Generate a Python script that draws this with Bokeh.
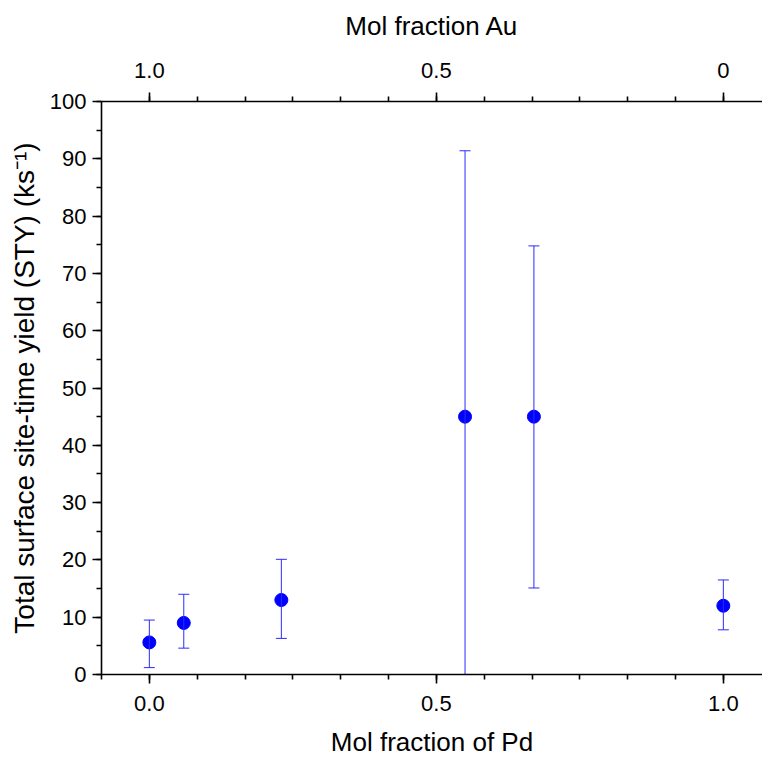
from bokeh.plotting import figure
from bokeh.models import (LinearAxis, FixedTicker, Range1d, Whisker, TeeHead,
                          ColumnDataSource)
from bokeh.embed import file_html
from bokeh.resources import INLINE

# ---- data ----
pd_fraction = [0.0, 0.06, 0.23, 0.55, 0.67, 1.0]
sty = [5.6, 9.0, 13.0, 45.0, 45.0, 12.0]
err_upper = [9.5, 14.0, 20.1, 91.4, 74.8, 16.5]
err_lower = [1.2, 4.6, 6.3, -1.4, 15.1, 7.8]

bottom_ticks = [0.0, 0.5, 1.0]
bottom_labels = ["0.0", "0.5", "1.0"]
top_labels = ["1.0", "0.5", "0"]
minor_ticks = [k / 12 for k in range(-1, 14)]
y_major = list(range(0, 101, 10))
y_minor = list(range(0, 101, 5))

FONT = "Liberation Sans"

src = ColumnDataSource(dict(x=pd_fraction, y=sty, upper=err_upper, lower=err_lower))

p = figure(width=762, height=761, output_backend="svg", toolbar_location=None,
           x_range=Range1d(-1 / 12, -1 / 12 + 661 / 574), y_range=Range1d(0, 100),
           min_border_left=101, min_border_right=0, min_border_top=101,
           min_border_bottom=87, x_axis_location=None, y_axis_location=None)
p.outline_line_color = None
p.grid.visible = False
p.background_fill_color = "white"
p.border_fill_color = "white"


def style_axis(ax, label_size, title_size):
    ax.axis_line_width = 1.6
    ax.major_tick_line_width = 1.6
    ax.minor_tick_line_width = 1.6
    ax.major_tick_out = 9
    ax.major_tick_in = 0
    ax.minor_tick_out = 5
    ax.minor_tick_in = 0
    ax.major_label_text_font = FONT
    ax.major_label_text_font_size = label_size
    ax.major_label_text_color = "black"
    ax.axis_label_text_font = FONT
    ax.axis_label_text_font_size = title_size
    ax.axis_label_text_font_style = "normal"
    ax.axis_label_text_color = "black"


xb = LinearAxis(ticker=FixedTicker(ticks=bottom_ticks, minor_ticks=minor_ticks),
                axis_label="Mol fraction of Pd")
xb.major_label_overrides = {t: l for t, l in zip(bottom_ticks, bottom_labels)}
style_axis(xb, "22px", "26px")
xb.major_label_standoff = 12
xb.axis_label_standoff = 13
p.add_layout(xb, "below")

xt = LinearAxis(ticker=FixedTicker(ticks=bottom_ticks, minor_ticks=minor_ticks[1:-1]),
                axis_label="Mol fraction Au")
xt.major_label_overrides = {t: l for t, l in zip(bottom_ticks, top_labels)}
style_axis(xt, "22px", "26px")
xt.major_label_standoff = 15
xt.axis_label_standoff = 19
p.add_layout(xt, "above")

yl = LinearAxis(ticker=FixedTicker(ticks=y_major, minor_ticks=y_minor),
                axis_label="Total surface site-time yield (STY) (ks\u207b\u00b9)")
style_axis(yl, "22px", "28px")
yl.major_label_standoff = 6
yl.axis_label_standoff = 7
p.add_layout(yl, "left")

wh = Whisker(base="x", upper="upper", lower="lower", source=src, dimension="height",
             line_color="#2b2bff", line_width=1, level="glyph",
             upper_head=TeeHead(size=11, line_color="#2b2bff", line_width=1),
             lower_head=TeeHead(size=11, line_color="#2b2bff", line_width=1))
p.add_layout(wh)

p.scatter("x", "y", source=src, size=13, fill_color="#0000ff", line_color="#0000ff")

open("out.html", "w").write(file_html(p, INLINE))
